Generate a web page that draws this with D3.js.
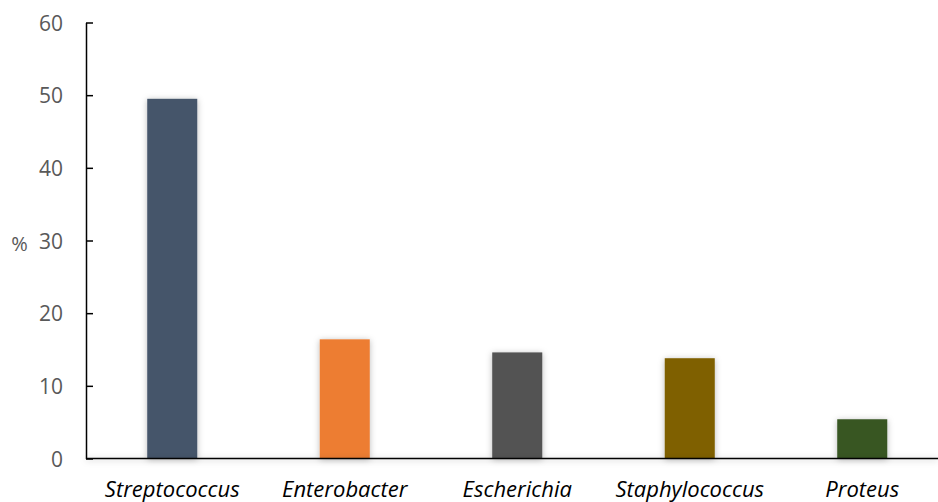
<!DOCTYPE html>
<html>
<head>
<meta charset="utf-8">
<script src="https://cdn.jsdelivr.net/npm/d3@7"></script>
<style>
  html, body { margin: 0; padding: 0; background: #fff; }
  svg { display: block; }
</style>
</head>
<body>
<svg id="chart" width="938" height="502"></svg>
<script>
// Genera share (%)
const categories = ["Streptococcus", "Enterobacter", "Escherichia", "Staphylococcus", "Proteus"];
const values = [49.5, 16.4, 14.6, 13.8, 5.4];
const colors = ["#44546A", "#ED7D31", "#525252", "#7F6000", "#375623"];
const yTicks = [0, 10, 20, 30, 40, 50, 60];
const yLabel = "%";

const svg = d3.select("#chart");
const W = 938, H = 502;
const m = { left: 86, top: 22.5, bottom: 458.5 };

const defs = svg.append("defs");
const f = defs.append("filter").attr("id", "shade")
  .attr("filterUnits", "userSpaceOnUse")
  .attr("x", 0).attr("y", 0).attr("width", W).attr("height", H);
f.append("feDropShadow").attr("dx", 0).attr("dy", 1).attr("stdDeviation", 3)
  .attr("flood-color", "#000").attr("flood-opacity", 0.28);

const x = d3.scaleBand().domain(categories).range([m.left, 948.5]).paddingInner(0.71).paddingOuter(0.355);
const y = d3.scaleLinear().domain([0, 60]).range([m.bottom, m.top]);

// bars
svg.append("g").selectAll("rect").data(categories).join("rect")
  .attr("x", d => x(d))
  .attr("width", x.bandwidth())
  .attr("y", (d, i) => y(values[i]))
  .attr("height", (d, i) => y(0) - y(values[i]))
  .attr("fill", (d, i) => colors[i])
  .attr("filter", "url(#shade)");

// y axis: inside ticks on the right of the spine
const yAxis = svg.append("g").attr("transform", `translate(${m.left},0)`)
  .call(d3.axisRight(y).tickValues(yTicks).tickSize(7).tickSizeOuter(0).tickFormat(""));
yAxis.select(".domain").attr("stroke", "#000").attr("stroke-width", 1.5);
yAxis.selectAll(".tick line").attr("stroke", "#000").attr("stroke-width", 1.5);

svg.append("g").selectAll("text").data(yTicks).join("text")
  .attr("x", 63).attr("y", d => y(d))
  .attr("text-anchor", "end").attr("dominant-baseline", "central")
  .attr("font-family", "'Open Sans', sans-serif").attr("font-size", 21)
  .attr("fill", "#595959")
  .text(d => d);

// x axis
svg.append("line")
  .attr("x1", m.left).attr("x2", W).attr("y1", m.bottom).attr("y2", m.bottom)
  .attr("stroke", "#000").attr("stroke-width", 1.6)
  .attr("filter", "url(#shade)");

svg.append("g").selectAll("text").data(categories).join("text")
  .attr("x", d => x(d) + x.bandwidth() / 2).attr("y", 497)
  .attr("text-anchor", "middle")
  .attr("font-family", "'Open Sans', sans-serif").attr("font-style", "italic").attr("font-size", 22)
  .attr("fill", "#000")
  .text(d => d);

// axis title
svg.append("text")
  .attr("x", 19.5).attr("y", 243)
  .attr("text-anchor", "middle").attr("dominant-baseline", "central")
  .attr("font-family", "'Open Sans', sans-serif").attr("font-size", 20)
  .attr("fill", "#595959")
  .text(yLabel);
</script>
</body>
</html>
